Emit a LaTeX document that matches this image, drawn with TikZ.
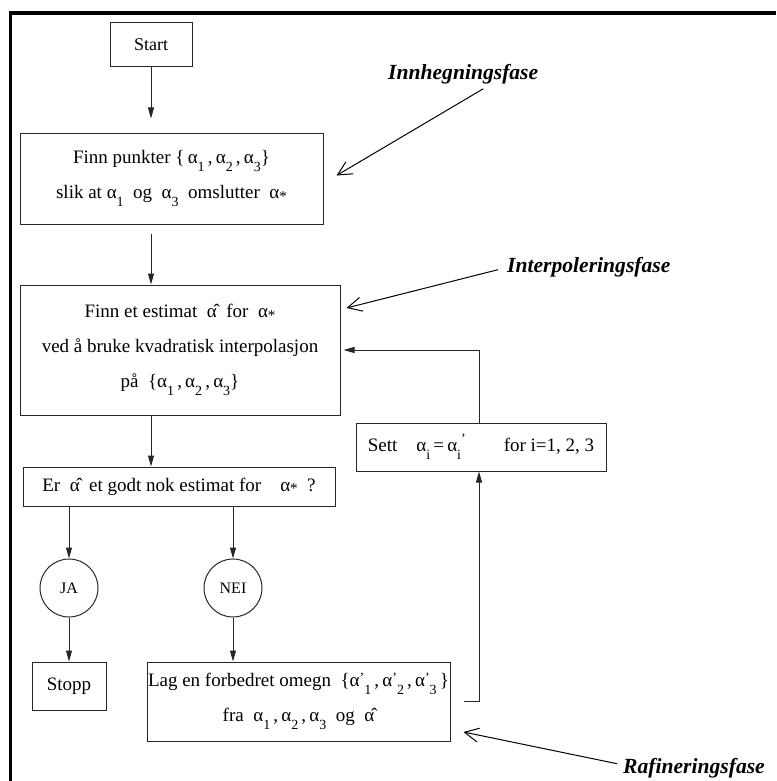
\documentclass[tikz,border=0pt]{standalone}
\usepackage{fontspec}
\setmainfont{Liberation Serif}
\usetikzlibrary{arrows.meta,calc}
\newcommand\sbs[1]{\raisebox{-0.42em}{\fontsize{14}{14}\selectfont #1}}
\newcommand\ahat{α̂}
\newcommand\astar{α\raisebox{-0.15em}{\fontsize{15}{15}\selectfont *}}
\newcommand\apr[1]{α\raisebox{0.2em}{\fontsize{14}{14}\selectfont ’}\sbs{#1}}
\begin{document}
\begin{tikzpicture}[x=1pt,y=-1pt,
  box/.style={draw=black!85,line width=1pt,rectangle,inner sep=0pt,align=center,font=\fontsize{19}{35}\selectfont},
  circ/.style={draw=black!85,line width=1pt,circle,minimum size=58pt,inner sep=0pt,font=\fontsize{16}{16}\selectfont},
  flow/.style={draw=black!85,line width=1pt,-{Triangle[length=11pt,width=6pt]}},
  phase/.style={font=\fontsize{21.6}{22}\selectfont\bfseries\itshape,inner sep=0pt,anchor=base west},
  parr/.style={line width=1pt,-{Straight Barb[length=14pt,width=14pt]}}
]
\useasboundingbox (0,0) rectangle (776,781);
\draw[line width=3.5pt] (10.5,781) -- (10.5,13) -- (776,13);

\node[box,minimum width=82pt,minimum height=44pt,font=\fontsize{18}{18}\selectfont] (start) at (151,45) {Start};
\node[box,minimum width=303pt,minimum height=91pt] (box1) at (171.5,178.5)
  {Finn punkter \{\,α\sbs{1}\,,\,α\sbs{2}\,,\,α\sbs{3}\}\\ slik at α\sbs{1}\enspace og\enspace α\sbs{3}\enspace omslutter\enspace\astar};
\node[box,minimum width=320pt,minimum height=130pt] (box2) at (180,350)
  {Finn et estimat\enspace\ahat\enspace for\enspace\astar\\ ved å bruke kvadratisk interpolasjon\\ på\enspace\{α\sbs{1}\,,\,α\sbs{2}\,,\,α\sbs{3}\}};
\node[box,minimum width=312pt,minimum height=39pt] (er) at (179,486.5)
  {Er\enspace\ahat\enspace et godt nok estimat for\quad\astar\enspace ?};
\node[circ] (ja) at (69,588) {JA};
\node[circ] (nei) at (233,588) {NEI};
\node[box,minimum width=74pt,minimum height=48pt] (stopp) at (69,686) {Stopp};
\node[box,minimum width=303pt,minimum height=79pt] (lag) at (298.5,701.5)
  {Lag en forbedret omegn\enspace\{\apr{1}\,,\,\apr{2}\,,\,\apr{3}\,\}\\ fra\enspace α\sbs{1}\,,\,α\sbs{2}\,,\,α\sbs{3}\enspace og\enspace\ahat};
\node[box,minimum width=250pt,minimum height=48pt] (sett) at (481,447)
  {Sett\quad α\sbs{i}\,=\,α\sbs{i}\raisebox{0.45em}{\fontsize{14}{14}\selectfont ’}\qquad for i=1, 2, 3};

\draw[flow,shorten >=14pt] (start.south) -- (start.south |- box1.north);
\draw[flow,shorten <=9pt] (box1.south -| start.south) -- (box2.north -| start.south);
\draw[flow] (box2.south -| start.south) -- (er.north -| start.south);
\draw[flow] (er.south -| ja.north) -- (ja.north);
\draw[flow] (er.south -| nei.north) -- (nei.north);
\draw[flow] (ja.south) -- (stopp.north);
\draw[flow] (nei.south) -- (lag.north -| nei.south);
\draw[flow,shorten <=13pt] (lag.east) -| ([xshift=-2pt]sett.south);
\draw[flow,shorten >=3pt] ([xshift=-2pt]sett.north) |- (box2.east);

\node[phase] (inn) at (388,80) {Innhegningsfase};
\node[phase] (int) at (507,272) {Interpoleringsfase};
\node[phase] (raf) at (623,773) {Rafineringsfase};
\draw[parr] ($(inn.south)+(20,4)$) -- ($(box1.east)+(13,-3)$);
\draw[parr] ($(int.west)+(-9,3)$) -- ($(box2.east)+(6,-42)$);
\draw[parr] ($(raf.west)+(-6,-4)$) -- ($(lag.east)+(13,30.5)$);
\end{tikzpicture}
\end{document}
